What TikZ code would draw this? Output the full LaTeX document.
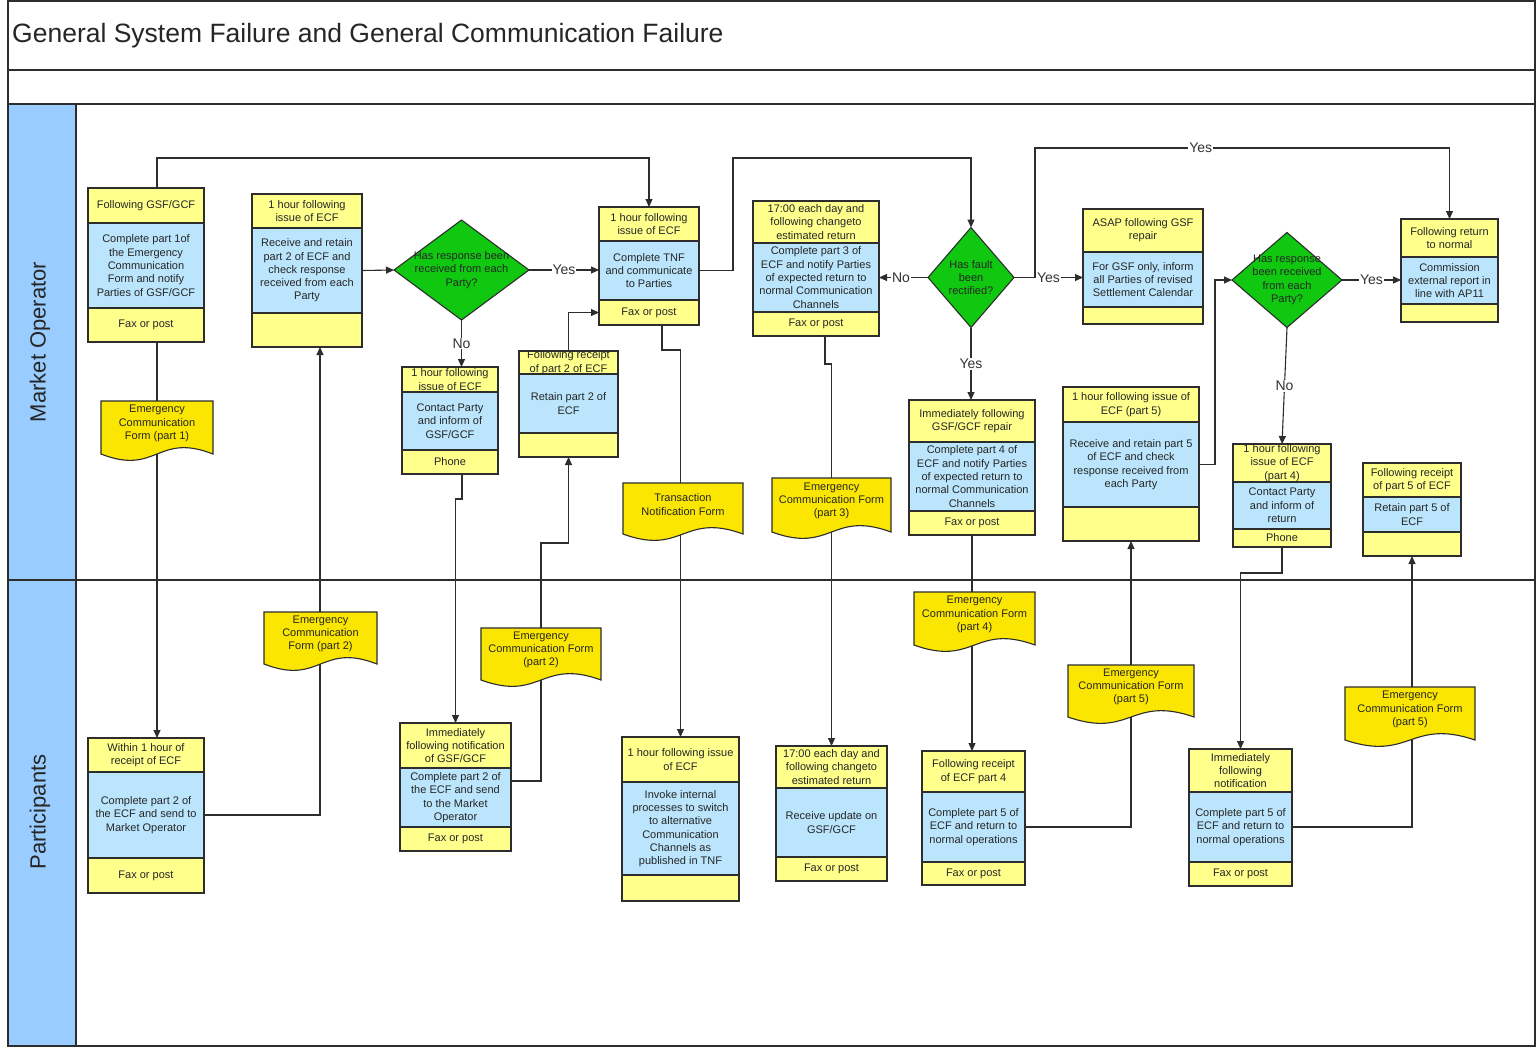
\documentclass[tikz,border=0pt]{standalone}
\usepackage{fontspec}
\setmainfont{Liberation Sans}
\usetikzlibrary{arrows.meta,shapes.geometric,calc}

\definecolor{hdrY}{RGB}{255,255,140}
\definecolor{bodyB}{RGB}{187,229,252}
\definecolor{docY}{RGB}{250,230,0}
\definecolor{decG}{RGB}{16,200,16}
\definecolor{laneB}{RGB}{153,204,255}
\definecolor{lineC}{RGB}{45,45,45}

\tikzset{
  partbox/.style={draw=lineC, line width=1.1pt, inner sep=0pt, outer sep=0pt, anchor=north west},
  hdrpart/.style={partbox, fill=hdrY},
  bodypart/.style={partbox, fill=bodyB},
  boxtext/.style={font=\fontsize{11}{13.3}\selectfont, align=center, inner sep=0pt, text=black!85},
  wholebox/.style={draw=none, inner sep=0pt, outer sep=0pt},
  conn/.style={draw=lineC, line width=1.1pt, -{Triangle[length=8pt,width=7pt]}},
  lbl/.style={font=\fontsize{14}{16}\selectfont, fill=white, inner sep=1pt, text=black!80},
  docst/.style={draw=lineC, line width=1.1pt, fill=docY},
  decision/.style={shape=diamond, draw=lineC, line width=1.1pt, fill=decG, inner sep=0pt, outer sep=0pt},
  frame/.style={draw=lineC, line width=1.2pt},
  lanetext/.style={font=\fontsize{22}{26}\selectfont, rotate=90, text=black!85},
}

% process box: name, x1, x2, y1, y2, y3, y4, header, body, {footer}
\newcommand\pbox[9]{%
  \def\pbN{#1}\def\pbXa{#2}\def\pbXb{#3}\def\pbYa{#4}\def\pbYc{#6}\def\pbYd{#7}%
  \node[hdrpart, minimum width={#3-#2}, minimum height={#5-#4}] (#1-h) at (#2,#4) {};
  \node[boxtext] at (#1-h.center) {#8};
  \node[bodypart, minimum width={#3-#2}, minimum height={#6-#5}] (#1-b) at (#2,#5) {};
  \node[boxtext] at (#1-b.center) {#9};
  \pbfoot}
\newcommand\pbfoot[1]{%
  \node[hdrpart, minimum width={\pbXb-\pbXa}, minimum height={\pbYd-\pbYc}] (\pbN-f) at (\pbXa,\pbYc) {};
  \node[boxtext] at (\pbN-f.center) {#1};
  \node[wholebox, minimum width={\pbXb-\pbXa}, minimum height={\pbYd-\pbYa}] (\pbN) at ({(\pbXa+\pbXb)/2},{(\pbYa+\pbYd)/2}) {};}

% document shape: name, x1, x2, ytop, ybottom, text
\newcommand\docf[6]{%
  \draw[docst] (#2,#4) -- (#3,#4) -- (#3,#5) .. controls ({(#2+#3)/2},{#5-22}) and ({(#2+#3)/2},{#5+22}) .. (#2,#5) -- cycle;
  \node[boxtext] (#1) at ({(#2+#3)/2},{(#4+#5)/2-4}) {#6};}

\begin{document}
\begin{tikzpicture}[x=1pt,y=-1pt]
\useasboundingbox (0,0) rectangle (1536,1050);
\fill[white] (0,0) rectangle (1536,1050);

% frame and lanes
\draw[frame] (8,1) rectangle (1535,1046);
\draw[frame] (8,70) -- (1535,70);
\draw[frame] (8,104) -- (1535,104);
\draw[frame, fill=laneB] (8,104) rectangle (76,1046);
\draw[frame] (8,580) -- (1535,580);
\node[anchor=west, inner sep=0pt, font=\fontsize{26.5}{30}\selectfont, text=black!85] (title) at (12,36) {General System Failure and General Communication Failure};
\node[lanetext] (laneMO) at (40,342) {Market Operator};
\node[lanetext] (laneP) at (40,812) {Participants};

% Market Operator boxes
\pbox{A}{88}{204}{188}{223}{308}{342}{Following GSF/GCF}{Complete part 1of\\the Emergency\\Communication\\Form and notify\\Parties of GSF/GCF}{Fax or post}
\pbox{B}{252}{362}{194}{228}{313}{347}{1 hour following\\issue of ECF}{Receive and retain\\part 2 of ECF and\\check response\\received from each\\Party}{}
\pbox{C}{599}{699}{207}{241}{300}{325}{1 hour following\\issue of ECF}{Complete TNF\\and communicate\\to Parties}{Fax or post}
\pbox{D}{402}{498}{367}{392}{450}{474}{1 hour following\\issue of ECF}{Contact Party\\and inform of\\GSF/GCF}{Phone}
\pbox{E}{519}{618}{351}{374}{433}{457}{Following receipt\\of part 2 of ECF}{Retain part 2 of\\ECF}{}
\pbox{X}{753}{879}{201}{243}{312}{336}{17:00 each day and\\following changeto\\estimated return}{Complete part 3 of\\ECF and notify Parties\\of expected return to\\normal Communication\\Channels}{Fax or post}
\pbox{IM}{909}{1035}{400}{442}{511}{535}{Immediately following\\GSF/GCF repair}{Complete part 4 of\\ECF and notify Parties\\of expected return to\\normal Communication\\Channels}{Fax or post}
\pbox{AS}{1083}{1203}{209}{252}{307}{324}{ASAP following GSF\\repair}{For GSF only, inform\\all Parties of revised\\Settlement Calendar}{}
\pbox{RC}{1063}{1199}{387}{422}{507}{541}{1 hour following issue of\\ECF (part 5)}{Receive and retain part 5\\of ECF and check\\response received from\\each Party}{}
\pbox{R}{1401}{1498}{219}{257}{304}{322}{Following return\\to normal}{Commission\\external report in\\line with AP11}{}
\pbox{PF}{1233}{1331}{444}{482}{529}{547}{1 hour following\\issue of ECF\\(part 4)}{Contact Party\\and inform of\\return}{Phone}
\pbox{RF}{1363}{1461}{463}{497}{532}{556}{Following receipt\\of part 5 of ECF}{Retain part 5 of\\ECF}{}

% Participants boxes
\pbox{H}{88}{204}{738}{772}{858}{893}{Within 1 hour of\\receipt of ECF}{Complete part 2 of\\the ECF and send to\\Market Operator}{Fax or post}
\pbox{G}{400}{511}{723}{768}{827}{851}{Immediately\\following notification\\of GSF/GCF}{Complete part 2 of\\the ECF and send\\to the Market\\Operator}{Fax or post}
\pbox{F}{622}{739}{737}{782}{875}{901}{1 hour following issue\\of ECF}{Invoke internal\\processes to switch\\to alternative\\Communication\\Channels as\\published in TNF}{}
\pbox{U}{776}{887}{746}{788}{857}{881}{17:00 each day and\\following changeto\\estimated return}{Receive update on\\GSF/GCF}{Fax or post}
\pbox{FR}{922}{1025}{751}{792}{862}{885}{Following receipt\\of ECF part 4}{Complete part 5 of\\ECF and return to\\normal operations}{Fax or post}
\pbox{IN}{1189}{1292}{749}{792}{862}{886}{Immediately\\following\\notification}{Complete part 5 of\\ECF and return to\\normal operations}{Fax or post}

% decisions
\node[decision, minimum width=135, minimum height=100] (d1) at (461.5,270) {};
\node[boxtext] (d1t) at (d1.center) {Has response been\\received from each\\Party?};
\node[decision, minimum width=86, minimum height=100] (d2) at (971,277.5) {};
\node[boxtext] (d2t) at (d2.center) {Has fault\\been\\rectified?};
\node[decision, minimum width=110, minimum height=95] (d3) at (1287,280) {};
\node[boxtext] (d3t) at (d3.center) {Has response\\been received\\from each\\Party?};

% helper coordinates
\coordinate (xA) at (157,0);
\coordinate (topA) at (0,158);
\coordinate (topB) at (0,148);
\coordinate (xB) at (320,0);
\coordinate (xC) at (733,0);
\coordinate (xD) at (462,0);
\coordinate (xCb) at (662,0);
\coordinate (xX) at (825,0);
\coordinate (ybr) at (1035,0);
\coordinate (yG) at (0,781);
\coordinate (g1) at (541,543);

% connectors
\draw[conn] (A.north -| xA) -- (xA |- topA) -| (C.north);
\draw[conn] (A.south -| xA) -- (H.north -| xA);
\draw[conn] (H-b.east) -| (B.south -| xB);
\draw[conn] (B-b.east) -- (d1.west);
\draw[conn] (d1.east) -- node[lbl]{Yes} (d1.east -| C.west);
\draw[conn] (d1.south) -- node[lbl]{No} (d1.south |- D.north);
\draw[conn] (E.north) |- (C-f.west);
\draw[conn] (G.east |- yG) -| (g1) -| (E.south);
\draw[conn] (D.south -| xD) -- ++(0,25) -| (G.north);
\draw[conn] (C.south -| xCb) -- ++(0,25) -| (F.north);
\draw[conn] (C-b.east) -| (xC |- topA) -| (d2.north);
\draw[conn] (d2.west) -- node[lbl, pos=0.55]{No} (d2.west -| X.east);
\draw[conn] (d2.east) -- node[lbl]{Yes} (d2.east -| AS.west);
\draw[conn] (d2.east -| ybr) -- (ybr |- topB) -| node[lbl, pos=0.2]{Yes} (R.north);
\draw[conn] (d2.south) -- node[lbl]{Yes} (d2.south |- IM.north);
\draw[conn] (X.south -| xX) -- ++(0,28) -| (U.north);
\draw[conn] (IM.south) -- (IM.south |- FR.north);
\draw[conn] (FR-b.east) -| (RC.south);
\draw[conn] (RC-b.east) -- ++(16,0) |- (d3.west);
\draw[conn] (d3.east) -- node[lbl]{Yes} (d3.east -| R.west);
\draw[conn] (d3.south) -- node[lbl]{No} (PF.north);
\draw[conn] (PF.south) -- ++(0,26) -| (IN.north);
\draw[conn] (IN-b.east) -| (RF.south);

% documents (drawn over the connectors)
\docf{doc1}{101}{213}{401}{454}{Emergency\\Communication\\Form (part 1)}
\docf{doc2}{264}{377}{612}{664}{Emergency\\Communication\\Form (part 2)}
\docf{doc2b}{481}{601}{628}{680}{Emergency\\Communication Form\\(part 2)}
\docf{doctnf}{623}{743}{483}{534}{Transaction\\Notification Form}
\docf{doc3}{772}{891}{478}{532}{Emergency\\Communication Form\\(part 3)}
\docf{doc4}{914}{1035}{592}{645}{Emergency\\Communication Form\\(part 4)}
\docf{doc5a}{1068}{1194}{665}{717}{Emergency\\Communication Form\\(part 5)}
\docf{doc5b}{1345}{1475}{687}{740}{Emergency\\Communication Form\\(part 5)}
\end{tikzpicture}
\end{document}
